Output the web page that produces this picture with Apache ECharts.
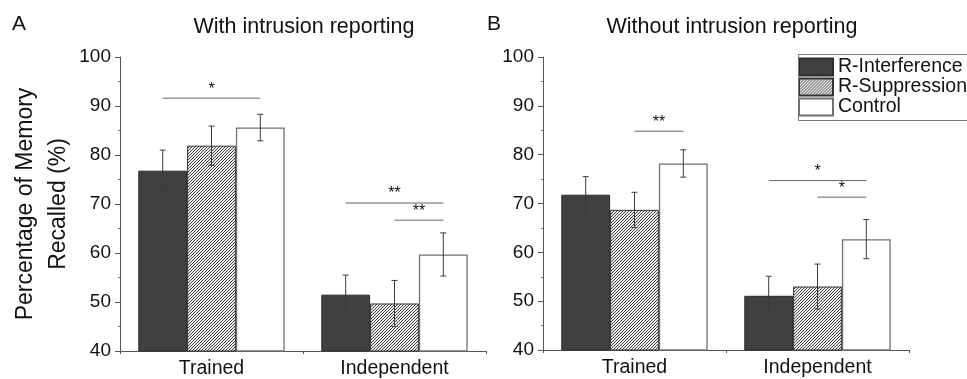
<!DOCTYPE html>
<html>
<head>
<meta charset="utf-8">
<script src="https://cdn.jsdelivr.net/npm/echarts@6/dist/echarts.min.js"></script>
<style>html,body{margin:0;padding:0;background:#fff}#c{width:967px;height:379px}</style>
</head>
<body>
<div id="c"></div>
<script>
// ---- data ----
const categories = ['Trained', 'Independent'];
const seriesNames = ['R-Interference', 'R-Suppression', 'Control'];
const yMin = 40, yMax = 100, yStep = 10;

// Panel A: With intrusion reporting
const interfA = [76.8, 51.5];
const suppA = [81.9, 49.7];
const controlA = [85.6, 59.7];
const interfErrA = [4.2, 4.0];
const suppErrA = [4.0, 4.7];
const controlErrA = [2.7, 4.4];
// significance: [category, fromSeries, toSeries, yValue]
const sigA = [[0, 0, 2, 91.6], [1, 0, 2, 70.2], [1, 1, 2, 66.7]];
const sigLabelsA = ['*', '**', '**'];

// Panel B: Without intrusion reporting
const interfB = [71.8, 51.1];
const suppB = [68.7, 53.0];
const controlB = [78.2, 62.7];
const interfErrB = [3.7, 4.0];
const suppErrB = [3.6, 4.6];
const controlErrB = [2.8, 4.0];
const sigB = [[0, 1, 2, 84.8], [1, 0, 2, 74.7], [1, 1, 2, 71.3]];
const sigLabelsB = ['**', '*', '*'];

// ---- styles ----
const FONT = '"Liberation Sans", Arial, sans-serif';
const hatch = document.createElement('canvas');
hatch.width = 3; hatch.height = 3;
(function () {
  const g = hatch.getContext('2d');
  g.fillStyle = '#eeeeee'; g.fillRect(0, 0, 3, 3);
  g.strokeStyle = '#303030'; g.lineWidth = 0.9;
  g.beginPath();
  g.moveTo(0, 3); g.lineTo(3, 0);
  g.moveTo(-1, 1); g.lineTo(1, -1);
  g.moveTo(2, 4); g.lineTo(4, 2);
  g.stroke();
})();
const barStyles = [
  { color: '#404040', borderColor: '#2a2a2a', borderWidth: 1 },
  { color: { image: hatch, repeat: 'repeat' }, borderColor: '#333', borderWidth: 1 },
  { color: '#ffffff', borderColor: '#707070', borderWidth: 1.3 }
];

function errData(means, errs, s) {
  return means.map((m, i) => [i, s, m, errs[i]]);
}
function errRender(params, api) {
  const cat = api.value(0), s = api.value(1), m = api.value(2), e = api.value(3);
  const band = api.size([1, 0])[0];
  const bw = band * 0.8 / 3;
  const x = api.coord([cat, m])[0] + (s - 1) * bw;
  const top = api.coord([cat, m + e])[1];
  const bot = api.coord([cat, m - e])[1];
  const st = { stroke: '#3a3a3a', lineWidth: 1 };
  return {
    type: 'group', children: [
      { type: 'line', shape: { x1: x, y1: top, x2: x, y2: bot }, style: st },
      { type: 'line', shape: { x1: x - 3, y1: top, x2: x + 3, y2: top }, style: st },
      { type: 'line', shape: { x1: x - 3, y1: bot, x2: x + 3, y2: bot }, style: st }
    ]
  };
}
function sigRender(labels) {
  return function (params, api) {
    const cat = api.value(0), f = api.value(1), t = api.value(2), y = api.value(3);
    const band = api.size([1, 0])[0];
    const bw = band * 0.8 / 3;
    const c = api.coord([cat, y]);
    const x1 = c[0] + (f - 1) * bw, x2 = c[0] + (t - 1) * bw;
    return {
      type: 'group', children: [
        { type: 'line', shape: { x1: x1, y1: c[1], x2: x2, y2: c[1] }, style: { stroke: '#666', lineWidth: 1 } },
        { type: 'text', style: { text: labels[params.dataIndex], x: (x1 + x2) / 2, y: c[1] - 1, align: 'center', verticalAlign: 'bottom', font: '16px ' + FONT, fill: '#111' } }
      ]
    };
  };
}

const grids = [
  { left: 120, top: 57, width: 366, height: 294 },
  { left: 543, top: 57, width: 366, height: 293 }
];
function xAx(i) {
  return {
    type: 'category', gridIndex: i, data: categories,
    axisLine: { lineStyle: { color: '#555', width: 1 } },
    axisTick: { show: true, length: 3, lineStyle: { color: '#555' } },
    axisLabel: { color: '#111', fontSize: 19.5, fontFamily: FONT, margin: 8 }
  };
}
function yAx(i, name) {
  return {
    type: 'value', gridIndex: i, min: yMin, max: yMax, interval: yStep,
    name: name, nameLocation: 'middle', nameGap: 43,
    nameTextStyle: { color: '#111', fontSize: 23, fontFamily: FONT, lineHeight: 33 },
    axisLine: { show: true, lineStyle: { color: '#555', width: 1 } },
    axisTick: { show: true, length: 5, lineStyle: { color: '#555' } },
    minorTick: { show: true, splitNumber: 2, length: 2, lineStyle: { color: '#777' } },
    splitLine: { show: false },
    axisLabel: { color: '#111', fontSize: 19, fontFamily: FONT, margin: 9 }
  };
}

const panels = [
  { vals: [interfA, suppA, controlA], errs: [interfErrA, suppErrA, controlErrA], sig: sigA, labels: sigLabelsA },
  { vals: [interfB, suppB, controlB], errs: [interfErrB, suppErrB, controlErrB], sig: sigB, labels: sigLabelsB }
];
const series = [];
panels.forEach((p, pi) => {
  p.vals.forEach((v, s) => {
    series.push({
      type: 'bar', name: seriesNames[s], xAxisIndex: pi, yAxisIndex: pi,
      data: v, barGap: '0%', barCategoryGap: '20%', itemStyle: barStyles[s],
      emphasis: { disabled: true }, z: 2
    });
  });
  p.errs.forEach((e, s) => {
    series.push({
      type: 'custom', xAxisIndex: pi, yAxisIndex: pi, renderItem: errRender,
      data: errData(p.vals[s], e, s), encode: { x: 0, y: 2 }, z: 5, silent: true
    });
  });
  series.push({
    type: 'custom', xAxisIndex: pi, yAxisIndex: pi, renderItem: sigRender(p.labels),
    data: p.sig, encode: { x: 0, y: 3 }, z: 5, silent: true
  });
});

const chart = echarts.init(document.getElementById('c'), null, { renderer: 'canvas' });
chart.setOption({
  animation: false,
  backgroundColor: '#fff',
  textStyle: { fontFamily: FONT },
  grid: grids,
  xAxis: [xAx(0), xAx(1)],
  yAxis: [yAx(0, 'Percentage of Memory\nRecalled (%)'), yAx(1, '')],
  legend: {
    data: seriesNames, orient: 'vertical', left: 796, top: 52,
    padding: [5, 2, 4, 2], itemGap: 0, itemWidth: 34, itemHeight: 17,
    icon: 'rect', borderWidth: 0, selectedMode: false,
    textStyle: { fontSize: 19.5, color: '#111', fontFamily: FONT, lineHeight: 17, padding: [0, 0, 0, 0] }
  },
  graphic: [
    { type: 'rect', left: 796, top: 52, z: 10, silent: true, shape: { width: 200, height: 66 }, style: { fill: 'none', stroke: '#777', lineWidth: 1 } },
    { type: 'text', left: 12, top: 14, style: { text: 'A', font: '21px ' + FONT, fill: '#111' } },
    { type: 'text', left: 487, top: 14, style: { text: 'B', font: '21px ' + FONT, fill: '#111' } },
    { type: 'text', x: 304, y: 27, style: { text: 'With intrusion reporting', font: '21.5px ' + FONT, fill: '#111', align: 'center', verticalAlign: 'middle' } },
    { type: 'text', x: 732, y: 27, style: { text: 'Without intrusion reporting', font: '21.5px ' + FONT, fill: '#111', align: 'center', verticalAlign: 'middle' } }
  ],
  series: series
});
</script>
</body>
</html>
